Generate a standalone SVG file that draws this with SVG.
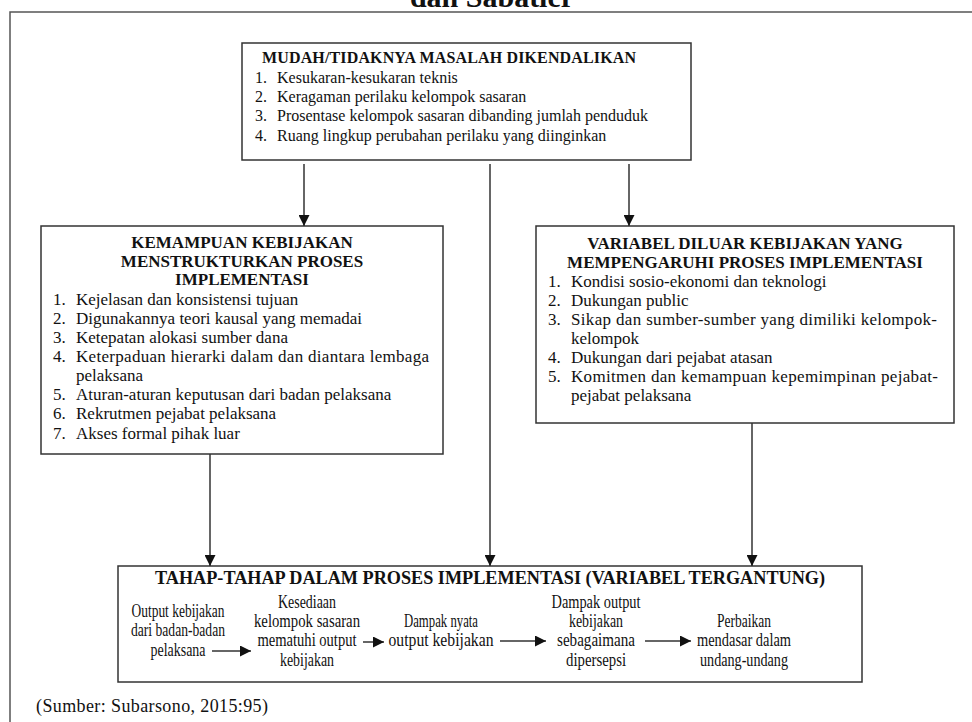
<svg xmlns="http://www.w3.org/2000/svg" width="972" height="722" viewBox="0 0 972 722">
<style>
text{font-family:"Liberation Serif","Times New Roman",serif;fill:#111;font-size:17px}
.b{font-weight:bold}
.c{text-anchor:middle}
.s{font-size:16px}
.t text{font-size:18px}
.box{fill:#fff;stroke:#333;stroke-width:1.5}
.ln{stroke:#333;stroke-width:1.5;fill:none}
</style>
<defs>
<marker id="ah" markerUnits="userSpaceOnUse" markerWidth="11" markerHeight="11" refX="11" refY="5.5" orient="auto">
<path d="M0,0 L11,5.5 L0,11 z" fill="#111"/>
</marker>
</defs>
<rect width="972" height="722" fill="#fff"/>
<text class="b c" x="492" y="7" style="font-size:30px">dan Sabatier</text>
<rect x="10" y="12" width="980" height="730" fill="none" stroke="#555" stroke-width="1.5"/>

<g id="masalah">
<rect class="box" x="242" y="43" width="449" height="117"/>
<text class="b s" x="262" y="63" textLength="374">MUDAH/TIDAKNYA MASALAH DIKENDALIKAN</text>
<text class="s" x="255" y="83">1.</text><text class="s" x="277" y="83">Kesukaran-kesukaran teknis</text>
<text class="s" x="255" y="102">2.</text><text class="s" x="277" y="102">Keragaman perilaku kelompok sasaran</text>
<text class="s" x="255" y="121">3.</text><text class="s" x="277" y="121">Prosentase kelompok sasaran dibanding jumlah penduduk</text>
<text class="s" x="255" y="141">4.</text><text class="s" x="277" y="141">Ruang lingkup perubahan perilaku yang diinginkan</text>
</g>

<g id="kemampuan">
<rect class="box" x="41" y="226" width="402" height="228"/>
<text class="b c" x="242" y="248">KEMAMPUAN KEBIJAKAN</text>
<text class="b c" x="242" y="267">MENSTRUKTURKAN PROSES</text>
<text class="b c" x="242" y="285">IMPLEMENTASI</text>
<text x="53" y="305">1.</text><text x="76" y="305">Kejelasan dan konsistensi tujuan</text>
<text x="53" y="324">2.</text><text x="76" y="324">Digunakannya teori kausal yang memadai</text>
<text x="53" y="343">3.</text><text x="76" y="343">Ketepatan alokasi sumber dana</text>
<text x="53" y="362">4.</text><text x="76" y="362" textLength="353">Keterpaduan hierarki dalam dan diantara lembaga</text>
<text x="76" y="381">pelaksana</text>
<text x="53" y="400">5.</text><text x="76" y="400">Aturan-aturan keputusan dari badan pelaksana</text>
<text x="53" y="419">6.</text><text x="76" y="419">Rekrutmen pejabat pelaksana</text>
<text x="53" y="439">7.</text><text x="76" y="439">Akses formal pihak luar</text>
</g>

<g id="variabel">
<rect class="box" x="536" y="226" width="418" height="197"/>
<text class="b c" x="745" y="249">VARIABEL DILUAR KEBIJAKAN YANG</text>
<text class="b c" x="745" y="268">MEMPENGARUHI PROSES IMPLEMENTASI</text>
<text x="548" y="287">1.</text><text x="571" y="287">Kondisi sosio-ekonomi dan teknologi</text>
<text x="548" y="306">2.</text><text x="571" y="306">Dukungan public</text>
<text x="548" y="325">3.</text><text x="571" y="325" textLength="366">Sikap dan sumber-sumber yang dimiliki kelompok-</text>
<text x="571" y="344">kelompok</text>
<text x="548" y="363">4.</text><text x="571" y="363">Dukungan dari pejabat atasan</text>
<text x="548" y="382">5.</text><text x="571" y="382" textLength="367">Komitmen dan kemampuan kepemimpinan pejabat-</text>
<text x="571" y="401">pejabat pelaksana</text>
</g>

<g id="tahap">
<rect class="box" x="118" y="566" width="744" height="116"/>
<text class="b c" x="490" y="584" style="font-size:18px" textLength="670" lengthAdjust="spacingAndGlyphs">TAHAP-TAHAP DALAM PROSES IMPLEMENTASI (VARIABEL TERGANTUNG)</text>
<g class="t">
<g id="s1">
<text class="c" x="178" y="617" textLength="93" lengthAdjust="spacingAndGlyphs">Output kebijakan</text>
<text class="c" x="178" y="636" textLength="94" lengthAdjust="spacingAndGlyphs">dari badan-badan</text>
<text class="c" x="178" y="656" textLength="55" lengthAdjust="spacingAndGlyphs">pelaksana</text>
</g>
<g id="s2">
<text class="c" x="307" y="608" textLength="58" lengthAdjust="spacingAndGlyphs">Kesediaan</text>
<text class="c" x="307" y="627" textLength="106" lengthAdjust="spacingAndGlyphs">kelompok sasaran</text>
<text class="c" x="307" y="646" textLength="99" lengthAdjust="spacingAndGlyphs">mematuhi output</text>
<text class="c" x="307" y="666" textLength="54" lengthAdjust="spacingAndGlyphs">kebijakan</text>
</g>
<g id="s3">
<text class="c" x="441" y="627" textLength="74" lengthAdjust="spacingAndGlyphs">Dampak nyata</text>
<text class="c" x="441" y="646" textLength="105" lengthAdjust="spacingAndGlyphs">output kebijakan</text>
</g>
<g id="s4">
<text class="c" x="596" y="608" textLength="89" lengthAdjust="spacingAndGlyphs">Dampak output</text>
<text class="c" x="596" y="627" textLength="54" lengthAdjust="spacingAndGlyphs">kebijakan</text>
<text class="c" x="596" y="646" textLength="78" lengthAdjust="spacingAndGlyphs">sebagaimana</text>
<text class="c" x="596" y="666" textLength="60" lengthAdjust="spacingAndGlyphs">dipersepsi</text>
</g>
<g id="s5">
<text class="c" x="744" y="627" textLength="54" lengthAdjust="spacingAndGlyphs">Perbaikan</text>
<text class="c" x="744" y="646" textLength="94" lengthAdjust="spacingAndGlyphs">mendasar dalam</text>
<text class="c" x="744" y="666" textLength="88" lengthAdjust="spacingAndGlyphs">undang-undang</text>
</g>
</g>
</g>

<g id="connectors">
<line class="ln" x1="304" y1="164" x2="304" y2="226" marker-end="url(#ah)"/>
<line class="ln" x1="629" y1="164" x2="629" y2="226" marker-end="url(#ah)"/>
<line class="ln" x1="490" y1="164" x2="490" y2="566" marker-end="url(#ah)"/>
<line class="ln" x1="210" y1="454" x2="210" y2="566" marker-end="url(#ah)"/>
<line class="ln" x1="752" y1="423" x2="752" y2="566" marker-end="url(#ah)"/>
<line class="ln" x1="212" y1="651" x2="251" y2="651" marker-end="url(#ah)"/>
<line class="ln" x1="363" y1="642" x2="384" y2="642" marker-end="url(#ah)"/>
<line class="ln" x1="500" y1="641" x2="546" y2="641" marker-end="url(#ah)"/>
<line class="ln" x1="645" y1="641" x2="691" y2="641" marker-end="url(#ah)"/>
</g>

<text x="36" y="712" style="font-size:18px" textLength="232">(Sumber: Subarsono, 2015:95)</text>
</svg>
